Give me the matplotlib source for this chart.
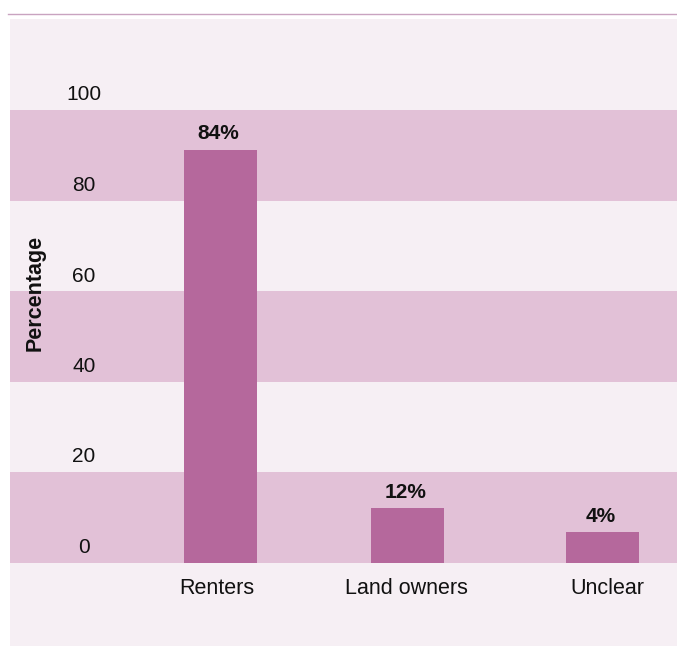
import matplotlib
matplotlib.use("Agg")
import matplotlib.pyplot as plt
from matplotlib.patches import Rectangle
from matplotlib.lines import Line2D

# ---- data ----
categories = ["Renters", "Land owners", "Unclear"]
bar_heights = [91.2, 12.0, 6.7]          # heights as drawn in the reference
value_labels = ["84%", "12%", "4%"]
y_ticks = [0, 20, 40, 60, 80, 100]
y_label = "Percentage"

BG = "#f6eff4"
BAND = "#e2c1d7"
BAR = "#b5689c"
FONT = ["Liberation Sans", "DejaVu Sans"]
plt.rcParams["font.family"] = FONT

W, H = 677, 646
fig = plt.figure(figsize=(W / 100, H / 100), dpi=100, facecolor="white")

# panel background
fig.patches.append(Rectangle((10 / W, 0), 1 - 10 / W, (H - 19) / H,
                             transform=fig.transFigure, facecolor=BG,
                             edgecolor="none", zorder=-10))
# top rule
fig.lines.append(Line2D([8 / W, 1], [(H - 13.5) / H] * 2, transform=fig.transFigure,
                        color="#c9a3c0", lw=1.0))

y0 = (H - 562.5) / H
y1 = (H - 110) / H
ax = fig.add_axes([10 / W, y0, 1 - 10 / W, y1 - y0])
ax.set_facecolor("none")
for s in ax.spines.values():
    s.set_visible(False)

# layout: bar centre positions (slightly uneven, as in the reference)
x = [0, 0.978, 2]
label_dx = [-4, -1, 5]
spacing = 191.0
ax.set_xlim((10 - 220.5) / spacing, (677 - 220.5) / spacing)
ax.set_ylim(0, 100)

for lo in (0, 40, 80):
    ax.axhspan(lo, lo + 20, color=BAND, lw=0, zorder=0)

ax.bar(x, bar_heights, width=73 / spacing, color=BAR, zorder=2)

ax.set_xticks([])
ax.set_yticks([])

for t in y_ticks:
    ax.annotate(str(t), xy=((84 - 10) / (W - 10), t),
                xycoords=("axes fraction", "data"),
                xytext=(0, 15), textcoords="offset pixels",
                ha="center", va="center", fontsize=15, color="#111111",
                annotation_clip=False)

for xi, c, dx in zip(x, categories, label_dx):
    ax.annotate(c, xy=(xi, 0), xytext=(dx, -26), textcoords="offset pixels",
                ha="center", va="center", fontsize=15.5, color="#111111",
                annotation_clip=False)

for xi, h, lab in zip(x, bar_heights, value_labels):
    ax.annotate(lab, xy=(xi, h), xytext=(-2, 16), textcoords="offset pixels",
                ha="center", va="center", fontsize=15, fontweight="bold",
                color="#111111", annotation_clip=False)

fig.text(35 / W, (H - 293) / H, y_label, rotation=90, ha="center", va="center",
         fontsize=15.5, fontweight="bold", color="#111111")

fig.savefig("out.png", dpi=100, facecolor="white")
